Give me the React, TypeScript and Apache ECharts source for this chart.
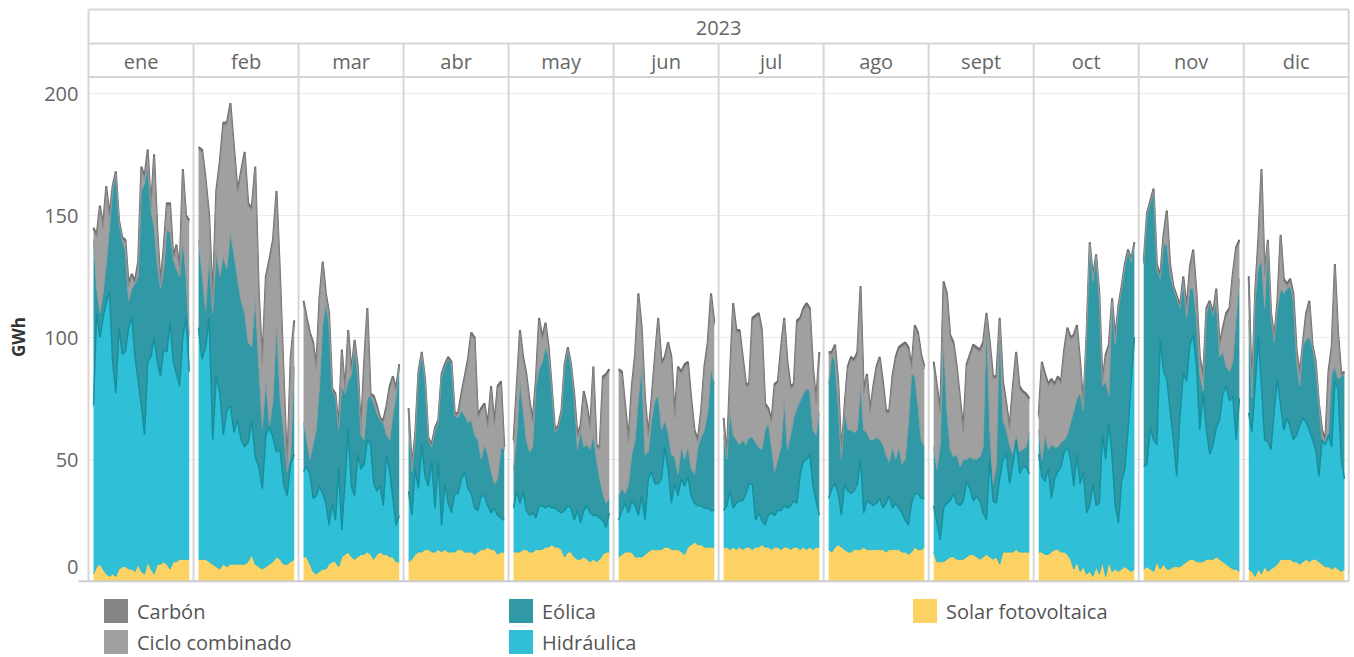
import React, { useEffect, useRef } from "react";
import * as echarts from "echarts";

const year = "2023";
const months = ["ene", "feb", "mar", "abr", "may", "jun", "jul", "ago", "sept", "oct", "nov", "dic"];
const yTicks = [0, 50, 100, 150, 200];
const unit = "GWh";

// Daily generation (GWh) per month
const solar: number[][] = [
  [3,6,7,5,3,2,3,2,5,6,6,5,5,4,7,4,3,8,5,3,7,7,8,7,5,8,8,9,9,9,9],
  [9,9,9,8,7,6,5,7,6,7,7,7,7,7,8,11,7,6,5,6,7,8,10,9,7,7,8,9],
  [10,10,7,4,3,4,5,5,7,8,8,6,10,11,12,10,9,10,11,11,12,11,9,11,12,11,11,10,10,8,8],
  [8,9,11,12,12,13,13,12,12,13,12,13,12,12,12,13,13,12,12,12,11,12,13,13,14,13,13,11,12,12],
  [12,12,12,13,13,12,12,13,13,13,14,14,15,14,14,13,10,12,12,10,9,9,10,9,8,9,8,9,11,12,12],
  [10,11,12,12,12,10,10,10,11,12,13,13,13,13,14,14,13,13,13,12,11,14,15,16,15,15,14,14,14,14],
  [14,14,13,14,13,14,13,14,14,13,14,14,15,14,14,13,14,14,13,14,14,13,14,14,13,14,13,14,13,14,14],
  [13,12,14,15,14,13,12,12,13,13,13,14,13,13,13,13,13,13,12,13,13,13,13,12,12,11,12,14,13,13,14],
  [12,8,8,8,9,10,10,9,9,9,10,11,11,10,9,10,11,10,9,10,7,12,12,12,12,13,12,12,12,12],
  [12,12,11,11,12,13,13,12,12,11,9,5,8,4,6,3,4,2,6,3,8,2,8,4,5,4,5,6,5,4,5],
  [5,6,5,4,8,5,7,5,5,6,6,6,7,8,9,9,8,8,8,9,9,9,10,9,8,7,6,5,5,4],
  [5,4,2,5,3,6,4,5,6,7,9,9,9,9,8,8,7,8,9,8,9,9,8,7,6,6,5,6,5,4,5],
];

const hidraulica: number[][] = [
  [69,104,93,103,111,117,87,75,99,87,88,99,103,88,75,68,57,82,87,97,83,77,87,87,101,82,77,71,91,99,77],
  [95,82,87,100,51,78,72,53,64,65,54,59,51,48,49,55,44,41,33,54,56,51,43,45,33,28,40,43],
  [35,37,37,30,32,35,31,27,16,24,17,40,11,30,50,29,26,42,35,37,46,45,31,26,27,20,41,35,24,15,19],
  [29,18,35,26,44,30,26,37,18,36,11,27,20,16,24,23,29,33,26,24,19,17,22,22,17,15,17,16,14,13],
  [18,25,20,24,16,15,16,13,18,18,16,17,15,16,15,15,19,19,18,15,20,15,19,22,20,18,19,17,14,10,16],
  [15,18,20,16,21,21,17,25,14,30,32,27,27,29,41,32,19,27,22,30,28,29,20,16,16,16,16,16,15,15],
  [15,17,24,16,19,19,20,22,26,27,11,14,10,9,13,15,13,15,16,17,16,18,19,18,31,35,37,38,26,19,13],
  [21,26,26,21,13,27,25,24,24,27,37,14,20,19,18,19,21,17,20,22,17,19,17,16,13,12,20,22,23,21,20],
  [19,16,9,22,23,23,26,23,22,24,31,27,22,25,24,18,14,40,24,22,35,38,40,28,36,45,32,35,35,32],
  [40,31,30,35,22,29,32,35,41,44,41,34,44,36,39,25,27,38,25,29,52,48,57,47,26,20,36,40,57,78,95],
  [42,42,58,54,48,94,79,78,65,52,37,62,78,74,88,92,80,54,69,53,43,47,53,57,69,73,68,71,53,71],
  [64,57,78,95,77,52,53,49,64,76,63,53,58,54,50,52,57,59,56,54,49,45,35,51,50,54,50,76,74,46,37],
];

const eolica: number[][] = [
  [68,10,10,10,16,26,70,90,43,47,41,11,12,30,43,88,103,80,60,45,40,36,33,50,37,42,43,45,40,17,15],
  [36,35,15,25,52,51,48,73,58,71,73,58,57,55,41,30,65,41,25,22,1,15,52,21,22,10,4,36],
  [20,11,6,22,27,41,69,82,82,46,51,16,59,36,20,46,61,32,14,10,17,20,33,32,27,34,8,13,34,53,61],
  [28,18,12,47,37,39,19,6,32,16,61,48,59,61,32,31,28,23,27,30,30,29,15,21,21,17,10,15,29,29],
  [16,23,50,33,29,26,27,54,56,59,66,61,48,31,34,41,59,64,58,51,25,38,26,25,26,33,23,16,11,10,6],
  [10,9,4,12,19,27,48,53,27,11,21,34,36,20,11,15,20,11,9,13,11,12,11,12,24,28,32,39,58,52],
  [31,19,33,30,26,23,25,20,19,19,32,27,29,39,38,27,18,21,26,43,24,29,34,39,30,28,29,26,23,27,42],
  [47,55,50,36,23,30,25,26,24,22,30,34,28,26,27,27,24,26,20,14,25,18,25,20,25,42,53,48,36,24,21],
  [24,22,39,70,38,21,15,20,16,17,9,13,17,15,18,27,83,12,7,16,63,16,10,16,4,2,9,7,8,17],
  [10,7,19,8,22,13,10,10,5,5,15,31,23,37,25,72,107,83,102,83,20,32,11,63,66,88,79,83,73,49,38],
  [83,102,92,102,72,25,52,55,56,62,73,44,37,26,23,19,20,23,1,48,62,53,52,26,17,8,12,14,50,49],
  [38,14,35,28,52,54,81,54,28,29,48,56,53,58,57,30,16,30,34,38,38,34,29,0,1,1,30,6,4,34,43],
];

const cicloCombinado: number[][] = [
  [4,21,43,27,31,4,1,0,0,0,4,6,5,0,5,9,2,6,0,29,13,1,8,10,11,0,9,2,28,24,46],
  [37,50,53,16,4,24,46,54,59,52,43,35,52,65,56,56,53,29,26,42,67,65,54,49,22,0,39,18],
  [49,49,51,41,25,35,25,3,4,0,0,0,14,0,20,0,2,3,1,31,36,0,2,2,0,0,11,21,15,2,0],
  [5,1,1,0,0,0,0,0,0,0,0,0,0,0,0,1,6,15,25,35,39,9,20,16,11,34,24,37,26,0],
  [11,19,20,21,26,20,10,2,20,9,9,3,0,0,0,0,0,0,0,0,5,1,22,15,8,27,5,12,47,52,52],
  [51,47,35,17,27,34,42,15,22,6,8,17,31,27,25,36,39,16,43,30,38,34,28,17,2,10,25,28,30,24],
  [6,0,14,53,44,46,33,24,21,48,51,54,48,10,5,10,35,31,40,33,35,19,13,35,33,34,34,33,25,13,24],
  [12,0,6,9,1,1,25,29,29,31,40,15,23,11,21,28,33,25,17,20,28,41,40,48,47,30,2,20,29,34,32],
  [34,33,13,22,47,46,46,35,27,11,38,41,46,45,43,42,1,35,43,35,2,15,10,6,27,33,26,23,21,13],
  [5,39,24,26,26,25,28,24,36,43,34,30,29,12,1,0,0,1,0,2,1,10,20,1,2,0,0,0,0,0,0],
  [0,0,0,0,1,0,3,13,3,0,0,0,2,3,8,15,9,6,5,1,0,0,4,4,9,21,25,35,28,15],
  [17,0,2,11,36,13,1,1,1,2,21,5,1,2,2,4,4,0,10,14,0,1,0,3,0,24,10,41,18,0,0],
];

const carbon: number[][] = [
  [1,1,1,1,1,1,1,1,1,1,1,1,1,1,1,1,1,1,1,1,1,1,1,1,1,1,1,1,1,1,1],
  [1,1,1,1,1,1,1,1,1,1,1,1,1,1,1,1,1,1,1,1,1,1,1,1,1,1,1,1],
  [1,1,1,1,1,1,1,1,1,1,1,1,1,1,1,1,1,1,1,1,1,1,1,1,1,1,1,1,1,1,1],
  [1,1,1,1,1,1,1,1,1,1,1,1,1,1,1,1,1,1,1,1,1,1,1,1,1,1,1,1,1,1],
  [1,1,1,1,1,1,1,1,1,1,1,1,1,1,1,1,1,1,1,1,1,1,1,1,1,1,1,1,1,1,1],
  [1,1,1,1,1,1,1,1,1,1,1,1,1,1,1,1,1,1,1,1,1,1,1,1,1,1,1,1,1,1],
  [1,1,1,1,1,1,1,1,1,1,1,1,1,1,1,1,1,1,1,1,1,1,1,1,1,1,1,1,1,1,1],
  [1,1,1,1,1,1,1,1,1,1,1,1,1,1,1,1,1,1,1,1,1,1,1,1,1,1,1,1,1,1,1],
  [1,1,1,1,1,1,1,1,1,1,1,1,1,1,1,1,1,1,1,1,1,1,1,1,1,1,1,1,1,1],
  [1,1,1,1,1,1,1,1,1,1,1,1,1,1,1,1,1,1,1,1,1,1,1,1,1,1,1,1,1,1,1],
  [1,1,1,1,1,1,1,1,1,1,1,1,1,1,1,1,1,1,1,1,1,1,1,1,1,1,1,1,1,1],
  [1,1,1,1,1,1,1,1,1,1,1,1,1,1,1,1,1,1,1,1,1,1,1,1,1,1,1,1,1,1,1],
];

const FONT = '"Open Sans", "Noto Sans", sans-serif';
const FS = 20;

const SOURCES = [
  { name: "Solar fotovoltaica", data: solar, fill: "#fcd265", line: "#2cb5ca", width: 1, z: 10 },
  { name: "Hidráulica", data: hidraulica, fill: "#2fc0d8", line: "#15909e", width: 1.5, z: 9 },
  { name: "Eólica", data: eolica, fill: "#3199a5", line: "#8f9b9d", width: 1, z: 8 },
  { name: "Ciclo combinado", data: cicloCombinado, fill: "#a0a0a0", line: "#8c8c8c", width: 1, z: 7 },
  { name: "Carbón", data: carbon, fill: "#858585", line: "#6e6e6e", width: 2, z: 6 },
];
const colorOf = (n: string) => SOURCES.find((s) => s.name === n)!.fill;

export default function App() {
  const ref = useRef<HTMLDivElement>(null);

  useEffect(() => {
    document.body.style.margin = "0";
    if (!ref.current) return;
    const chart = echarts.init(ref.current, undefined, { renderer: "svg" });

    const LEFT = 88.5;
    const W = 105.02;
    const TOP = 77;
    const H = 504.3;
    const BOTTOM = TOP + H;
    const YMAX = 206.7;
    const GAP_L = 5;
    const GAP_R = 4.3;

    const grids: any[] = months.map((_, k) => ({
      left: LEFT + k * W + GAP_L,
      top: TOP,
      width: W - GAP_L - GAP_R,
      height: H,
    }));
    grids.push({ left: LEFT, top: TOP, width: W * 12, height: H });

    const xAxes: any[] = months.map((_, k) => ({
      gridIndex: k,
      type: "category",
      boundaryGap: false,
      data: solar[k].map((_, i) => String(i + 1)),
      show: false,
    }));
    xAxes.push({ gridIndex: 12, type: "value", min: 0, max: 1, show: false });

    const yAxes: any[] = months.map((_, k) => ({
      gridIndex: k,
      type: "value",
      min: 0,
      max: YMAX,
      show: false,
    }));
    yAxes.push({
      gridIndex: 12,
      type: "value",
      min: 0,
      max: YMAX,
      interval: 50,
      axisLine: { show: false },
      axisTick: { show: false },
      splitLine: { lineStyle: { color: "#ebebeb", width: 1 } },
      axisLabel: {
        margin: 10,
        fontSize: FS,
        color: "#666",
        fontFamily: FONT,
        showMaxLabel: false,
        formatter: (v: number) =>
          yTicks.includes(v) ? (v === 0 ? "{z|0}" : String(v)) : "",
        rich: {
          z: { fontSize: FS, color: "#666", fontFamily: FONT, padding: [0, 0, 30, 0] },
        },
      },
    });

    const series: any[] = [];
    months.forEach((_, k) => {
      SOURCES.forEach((s) => {
        series.push({
          name: s.name,
          type: "line",
          stack: "m" + k,
          xAxisIndex: k,
          yAxisIndex: k,
          data: s.data[k],
          symbol: "none",
          showSymbol: false,
          color: s.fill,
          itemStyle: { color: s.fill },
          lineStyle: { color: s.line, width: s.width },
          areaStyle: { color: s.fill, opacity: 1 },
          z: s.z,
          silent: true,
          emphasis: { disabled: true },
        });
      });
    });

    const border = "#d6d6d6";
    const right = LEFT + 12 * W;
    const elements: any[] = [];
    [9.5, 43.5, TOP].forEach((y) =>
      elements.push({
        type: "line",
        z: 50,
        shape: { x1: LEFT, y1: y, x2: right, y2: y },
        style: { stroke: border, lineWidth: 2 },
      })
    );
    for (let k = 0; k <= 12; k++) {
      const x = LEFT + k * W;
      elements.push({
        type: "line",
        z: 50,
        shape: { x1: x, y1: k === 0 || k === 12 ? 9.5 : 43.5, x2: x, y2: BOTTOM },
        style: { stroke: border, lineWidth: 2 },
      });
    }
    elements.push({
      type: "line",
      z: 51,
      shape: { x1: LEFT - 10, y1: BOTTOM, x2: right, y2: BOTTOM },
      style: { stroke: "#cccccc", lineWidth: 2 },
    });
    elements.push({
      type: "text",
      z: 52,
      x: LEFT + 6 * W,
      y: 27,
      style: { text: year, fontSize: FS, fontFamily: FONT, fill: "#666", align: "center", verticalAlign: "middle" },
    });
    months.forEach((m, k) =>
      elements.push({
        type: "text",
        z: 52,
        x: LEFT + (k + 0.5) * W,
        y: 61,
        style: { text: m, fontSize: FS, fontFamily: FONT, fill: "#666", align: "center", verticalAlign: "middle" },
      })
    );
    elements.push({
      type: "text",
      z: 52,
      x: 18,
      y: 337,
      rotation: Math.PI / 2,
      style: { text: unit, fontSize: 17, fontWeight: "bold", fontFamily: FONT, fill: "#333", align: "center", verticalAlign: "middle" },
    });

    const legendBase = {
      orient: "vertical",
      top: 599,
      height: 120,
      itemWidth: 24,
      itemHeight: 24,
      itemGap: 7,
      icon: "rect",
      padding: 0,
      selectedMode: false,
      itemStyle: { borderWidth: 0 },
      textStyle: { fontSize: FS, lineHeight: 18, color: "#555", fontFamily: FONT, padding: [0, 0, 0, 4] },
    };
    const legItem = (n: string) => ({ name: n, itemStyle: { color: colorOf(n) } });

    chart.setOption({
      animation: false,
      backgroundColor: "#ffffff",
      grid: grids,
      xAxis: xAxes,
      yAxis: yAxes,
      series,
      graphic: { elements },
      legend: [
        { ...legendBase, left: 104, data: [legItem("Carbón"), legItem("Ciclo combinado")] },
        { ...legendBase, left: 509, data: [legItem("Eólica"), legItem("Hidráulica")] },
        { ...legendBase, left: 913, data: [legItem("Solar fotovoltaica")] },
      ],
    });

    return () => chart.dispose();
  }, []);

  return <div ref={ref} style={{ width: 1354, height: 657 }} />;
}
